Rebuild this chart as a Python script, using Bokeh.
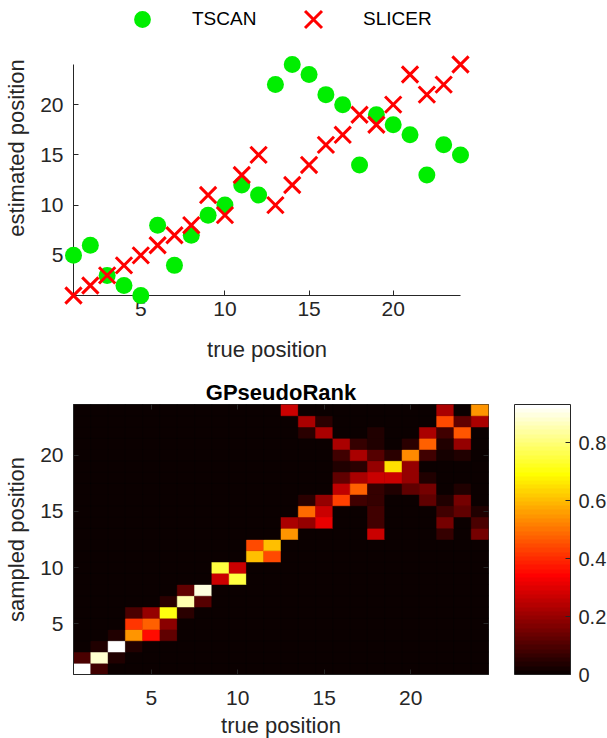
import numpy as np
from bokeh.plotting import figure
from bokeh.models import (Range1d, FixedTicker, Legend, LegendItem, LinearColorMapper,
                          ColorBar, LinearAxis, ColumnDataSource, NumeralTickFormatter)
from bokeh.layouts import column
from bokeh.transform import transform
from bokeh.embed import file_html
from bokeh.resources import INLINE

# ---------------- data ----------------
true_pos = list(range(1, 25))
tscan = [5, 6, 3, 2, 1, 8, 4, 7, 9, 10, 12, 11, 22, 24, 23, 21, 20, 14, 19, 18, 17, 13, 16, 15]
slicer = [1, 2, 3, 4, 5, 6, 7, 8, 11, 9, 13, 15, 10, 12, 14, 16, 17, 19, 18, 20, 23, 21, 22, 24]

tick_vals = [5, 10, 15, 20]
pos_min, pos_max = 1, 24
cbar_ticks = [0, 0.2, 0.4, 0.6, 0.8]
cbar_max = 0.932

# non-zero cells of the GPseudoRank matrix (true position, sampled position, value)
cell_col = [1, 1, 2, 2, 2, 3, 3, 3, 4, 4, 4, 4, 5, 5, 5, 6, 6, 6, 6, 7, 7, 7, 8, 8,
            9, 9, 10, 10, 11, 11, 12, 12, 13, 13, 13, 14, 14, 14, 14, 14,
            15, 15, 15, 15, 15, 16, 16, 16, 16, 16, 16,
            17, 17, 17, 17, 17, 17,
            18, 18, 18, 18, 18, 18, 18, 18, 18, 18,
            19, 19, 19, 19,
            20, 20, 20, 20, 20,
            21, 21, 21, 21, 21, 21,
            22, 22, 22, 22, 22, 22, 22, 22, 22,
            23, 23, 23, 23, 23, 23, 23,
            24, 24, 24, 24, 24]
cell_row = [1, 2, 1, 2, 3, 2, 3, 4, 3, 4, 5, 6, 4, 5, 6, 4, 5, 6, 7, 6, 7, 8, 7, 8,
            9, 10, 9, 10, 11, 12, 11, 12, 13, 14, 24, 14, 15, 16, 22, 23,
            14, 15, 16, 22, 23, 16, 17, 18, 19, 20, 21,
            16, 17, 18, 19, 20, 21,
            13, 14, 15, 16, 17, 18, 19, 20, 21, 22,
            17, 18, 19, 20,
            17, 18, 19, 20, 21,
            16, 17, 18, 20, 21, 22,
            13, 14, 15, 16, 20, 21, 22, 23, 24,
            15, 16, 17, 20, 21, 22, 23,
            13, 14, 15, 23, 24]
cell_val = [.93, .09, .08, .88, .04, .04, .92, .03, .03, .54, .42, .09, .35, .48, .19,
            .12, .18, .70, .05, .05, .85, .12, .11, .90,
            .27, .75, .75, .27, .60, .45, .45, .60, .55, .23, .27, .19, .49, .05, .05, .23,
            .32, .27, .20, .23, .05, .43, .26, .12, .03, .08, .23,
            .08, .48, .23, .05, .22, .07,
            .27, .08, .08, .07, .07, .27, .19, .11, .035, .03,
            .03, .27, .65, .05,
            .12, .19, .19, .53, .05,
            .12, .15, .03, .08, .47, .22,
            .07, .15, .08, .03, .02, .04, .08, .45, .22,
            .12, .16, .04, .03, .20, .46, .12,
            .16, .09, .04, .22, .54]

# ---------------- style ----------------
FONT = "Liberation Sans"
AX = "#262626"

# MATLAB-like hot(64) palette
n = 24
m = 64
hot = []
for i in range(m):
    r = min(1.0, (i + 1) / n)
    g = 0.0 if i < n else min(1.0, (i + 1 - n) / n)
    b = 0.0 if i < 2 * n else (i + 1 - 2 * n) / (m - 2 * n)
    hot.append("#%02x%02x%02x" % (round(r * 255), round(g * 255), round(b * 255)))


def style_axis(ax, tick_size="21px", label_size="22px"):
    ax.ticker = FixedTicker(ticks=tick_vals)
    ax.major_tick_in = 5
    ax.major_tick_out = 0
    ax.minor_tick_line_color = None
    ax.axis_line_color = AX
    ax.major_tick_line_color = AX
    ax.major_label_text_font = FONT
    ax.major_label_text_font_size = tick_size
    ax.major_label_text_color = AX
    ax.axis_label_text_font = FONT
    ax.axis_label_text_font_size = label_size
    ax.axis_label_text_font_style = "normal"
    ax.axis_label_text_color = AX


def tick_only_axis():
    ax = LinearAxis()
    style_axis(ax)
    ax.major_label_overrides = {t: "" for t in tick_vals}
    ax.major_label_standoff = 0
    ax.axis_line_color = None
    return ax


def one_item_legend(label, renderer, box, x, y, standoff):
    return Legend(items=[LegendItem(label=label, renderers=[renderer])],
                  orientation="horizontal", location=(x, y),
                  glyph_width=box, glyph_height=box, label_height=20,
                  label_standoff=standoff, padding=0, margin=0,
                  label_text_font=FONT, label_text_font_size="19px",
                  label_text_color="#000000",
                  background_fill_alpha=0, border_line_color=None)


# ---------------- top: scatter ----------------
# frame extends upward to hold the legend; the y axis itself is bounded to 1..24
data_h = 231                     # pixel height of the 1..24 span
frame_h = 295
y_top = pos_min + (pos_max - pos_min) * frame_h / data_h

p1 = figure(frame_width=387, frame_height=frame_h, min_border_left=73, min_border_right=147,
            min_border_top=0, min_border_bottom=78,
            x_range=Range1d(pos_min, pos_max), y_range=Range1d(pos_min, y_top),
            output_backend="svg", toolbar_location=None)
p1.grid.visible = False
p1.outline_line_color = None
style_axis(p1.xaxis[0])
style_axis(p1.yaxis[0])
p1.yaxis.bounds = (pos_min, pos_max)
p1.xaxis.axis_label = "true position"
p1.yaxis.axis_label = "estimated position"
p1.xaxis.major_label_standoff = 6
p1.xaxis.axis_label_standoff = 18
p1.yaxis.major_label_standoff = 10
p1.yaxis.axis_label_standoff = 8

r1 = p1.scatter(true_pos, tscan, marker="circle", size=17, fill_color="#00ee00",
                line_color=None, level="overlay")
r2 = p1.scatter(true_pos, slicer, marker="x", size=23, line_color="#ff0000",
                line_width=3, level="overlay")

p1.add_layout(one_item_legend("TSCAN", r1, 42, 48, 255, 29))
p1.add_layout(one_item_legend("SLICER", r2, 60, 210, 246, 20))

# ---------------- bottom: heatmap ----------------
grid = np.zeros((24, 24))
for c, r, v in zip(cell_col, cell_row, cell_val):
    grid[r - 1, c - 1] = v
xs, ys = np.meshgrid(np.arange(1, 25), np.arange(1, 25))
src = ColumnDataSource(dict(x=xs.ravel(), y=ys.ravel(), v=grid.ravel()))

mapper = LinearColorMapper(palette=hot, low=0, high=cbar_max)

p2 = figure(frame_width=415, frame_height=270, min_border_left=73, min_border_right=119,
            min_border_top=31, min_border_bottom=63,
            x_range=Range1d(0.5, 24.5), y_range=Range1d(0.5, 24.5),
            title="GPseudoRank",
            output_backend="svg", toolbar_location=None)
p2.grid.visible = False
p2.outline_line_color = AX
p2.background_fill_color = hot[0]
p2.title.align = "center"
p2.title.text_font = FONT
p2.title.text_font_size = "22px"
p2.title.text_font_style = "bold"
p2.title.text_color = "#000000"
p2.title.standoff = 0

p2.rect(x="x", y="y", width=1, height=1, source=src,
        fill_color=transform("v", mapper), line_color=transform("v", mapper), line_width=0.5)

style_axis(p2.xaxis[0])
style_axis(p2.yaxis[0])
p2.xaxis.axis_label = "true position"
p2.yaxis.axis_label = "sampled position"
p2.xaxis.major_label_standoff = 16
p2.xaxis.axis_label_standoff = 5
p2.yaxis.major_label_standoff = 10
p2.yaxis.axis_label_standoff = 8

p2.add_layout(tick_only_axis(), "above")
p2.add_layout(tick_only_axis(), "right")

cb = ColorBar(color_mapper=mapper, width=56, height=270, padding=0, margin=0,
              location=(441, 0),
              ticker=FixedTicker(ticks=cbar_ticks),
              formatter=NumeralTickFormatter(format="0.[0]"),
              major_label_text_font=FONT, major_label_text_font_size="20px",
              major_label_text_color=AX, label_standoff=8,
              major_tick_line_color=AX, major_tick_in=5, major_tick_out=0,
              minor_tick_line_color=None, bar_line_color=AX,
              background_fill_alpha=0)
p2.add_layout(cb)

layout = column(p1, p2, spacing=0)
open("out.html", "w").write(file_html(layout, INLINE))
